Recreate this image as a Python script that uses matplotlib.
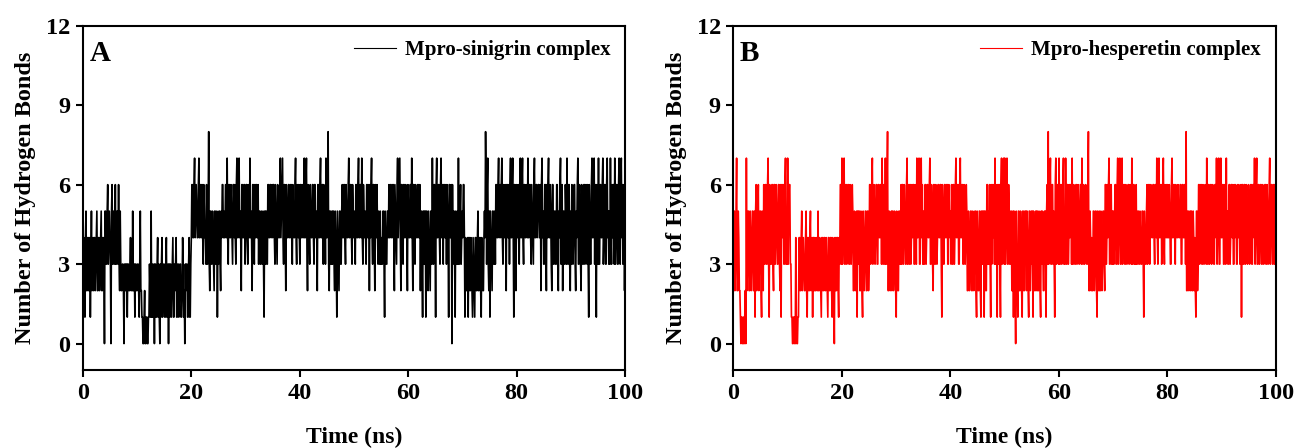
import numpy as np
import matplotlib
matplotlib.use("Agg")
import matplotlib.pyplot as plt

# hydrogen bond counts, 10 frames per ns (one line per 10 ns)
sinigrin_hb = (
    "3242145224" "4224135234" "2442345224" "4234522443" "0553356345" "4305633553" "6335536325" "3223320323" "2313322342" "3252231332"
    "2332135221" "1001200110" "0113215131" "2303311341" "3103134123" "3113412303" "1331234113" "2341133123" "3112431203" "2331134113"
    "4664467456" "5446744664" "6436544363" "3583255335" "4325533514" "3553254664" "5446647436" "6446543664" "6436744674" "5426644663"
    "4664365474" "5426643646" "6446355335" "4353153553" "3664466456" "4664365436" "5446745674" "3664265446" "6446643654" "4674365464"
    "3664465474" "4674264436" "5446643664" "5426644674" "4663645374" "4683255335" "3553254315" "4325533564" "4664365446" "7446643654"
    "5436644674" "4664743654" "5436644626" "4674366426" "5464354353" "4335531543" "3554644664" "4664265436" "7456742664" "3664465426"
    "5446647426" "6436544664" "4625531535" "3515532543" "2553743664" "1674466436" "7456366446" "3654166446" "0634531543" "5373356345"
    "4664143224" "1442243214" "3214422452" "2442143224" "5486367325" "1543255335" "3664467456" "4674365464" "2664463674" "4674166426"
    "5464367446" "7436644654" "7446643654" "3674466456" "6446267453" "3664264674" "4653266335" "5336632546" "7346255336" "5374366325"
    "3653466325" "4673365326" "5336634653" "6316533674" "4673641653" "7336644673" "4663367453" "5374364663" "7346633674" "3674634625"
)
hesperetin_hb = (
    "2552357225" "4221011001" "0120723552" "2542355225" "1562456235" "5215426336" "6336731653" "3663266346" "5336632616" "4663367353"
    "7356633110" "0110041001" "1442245234" "3224521442" "2452341442" "4224325224" "3214422442" "2432144224" "4214320424" "2442143663"
    "7346733663" "4663365346" "5225423515" "3552254215" "4235522552" "3663467356" "5346633664" "4663743653" "7336822542" "3525523542"
    "1542255336" "3663465336" "7356366346" "4663365374" "4673367463" "5336634664" "4673365326" "6336534664" "4663165336" "6446633654"
    "5364366346" "7446633674" "4663365346" "5225423552" "2542355215" "4225521535" "3515522663" "5363163646" "5373641636" "6316734673"
    "7346733653" "3552251542" "0532155225" "4215522535" "2542155235" "3515422552" "5225421535" "4225351563" "8346733663" "5316734663"
    "7336634673" "5374366346" "4663733653" "3663465346" "6374365346" "5336822542" "4225523552" "1532522542" "3553266346" "4673366353"
    "5346633673" "4673367356" "6336534663" "4653733663" "5363355335" "4335531543" "3563466356" "5446643664" "7436744663" "4674365464"
    "6446533674" "4664365446" "5446633664" "4663822552" "3525522542" "4215523663" "4663365346" "5374366346" "6346533664" "7346733674"
    "4663365374" "5336634664" "6336465336" "4653361663" "3663465346" "5346633664" "7346733663" "4663365346" "6336534673" "4663366346"
)

labels = ["Mpro-sinigrin complex", "Mpro-hesperetin complex"]
panel_tags = ["A", "B"]
colors = ["black", "red"]
x_ticks = [0, 20, 40, 60, 80, 100]
y_ticks = [0, 3, 6, 9, 12]

plt.rcParams["font.family"] = "Liberation Serif"
plt.rcParams["font.weight"] = "bold"
plt.rcParams["axes.labelweight"] = "bold"

fig = plt.figure(figsize=(12.95, 4.48), dpi=100)
lefts = [0.0639, 0.5663]

for k, series in enumerate([sinigrin_hb, hesperetin_hb]):
    vals = np.array([int(c) for c in series])
    t = np.linspace(0, 100, len(vals))

    ax = fig.add_axes([lefts[k], 0.174, 0.4188, 0.7685])
    ax.plot(t, vals, color=colors[k], linewidth=1.2, label=labels[k])

    ax.set_xlim(0, 100)
    ax.set_ylim(-1, 12)
    ax.set_xticks(x_ticks)
    ax.set_yticks(y_ticks)
    ax.tick_params(direction="out", length=5, width=1.5, labelsize=17.5, pad=4)
    for sp in ax.spines.values():
        sp.set_linewidth(1.5)

    ax.set_xlabel("Time (ns)", fontsize=17, labelpad=17)
    ax.set_ylabel("Number of Hydrogen Bonds", fontsize=17.5, labelpad=7)

    ax.text(0.012, 0.92, panel_tags[k], transform=ax.transAxes,
            fontsize=21, fontweight="bold", va="center", ha="left")

    leg = ax.legend(loc="upper right", frameon=False, fontsize=15,
                    handlelength=2.0, handletextpad=0.45,
                    bbox_to_anchor=(1.0, 1.0), borderaxespad=0.3)
    for h in leg.get_lines():
        h.set_linewidth(0.8)

fig.savefig("out.png", dpi=100)
